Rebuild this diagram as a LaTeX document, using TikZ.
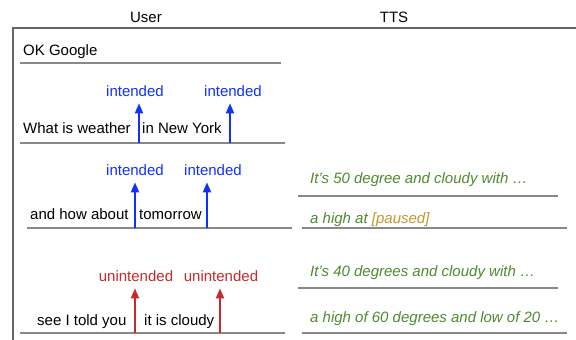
\documentclass[tikz,border=0pt]{standalone}
\usepackage{fontspec}
\setmainfont{Liberation Sans}
\usetikzlibrary{arrows.meta}
\definecolor{intblue}{HTML}{1030FF}
\definecolor{unred}{HTML}{C62A2A}
\definecolor{ttsgreen}{HTML}{4E8A2E}
\definecolor{pausegold}{HTML}{C4962E}
\definecolor{rulegray}{HTML}{888888}

\begin{document}
\begin{tikzpicture}[x=1pt, y=-1pt,
  txt/.style={anchor=base west, inner sep=0pt, font=\fontsize{15}{18}\selectfont},
  head/.style={anchor=base, inner sep=0pt, font=\fontsize{15}{18}\selectfont},
  tts/.style={txt, text=ttsgreen, font=\fontsize{15}{18}\selectfont\itshape},
  lbl/.style={anchor=base, inner xsep=0pt, inner ysep=7pt, font=\fontsize{15}{18}\selectfont},
  rule/.style={draw=rulegray, line width=1.2pt},
  mark arrow/.style={-{Triangle[length=10pt,width=8pt]}, line width=2pt}]
  \useasboundingbox (0,0) rectangle (576,340);

  \node[head] (user) at (146,23) {User};
  \node[head] (tts) at (394,23) {TTS};
  \draw[draw=black!60, line width=2pt] (576,28) -- (13,28) -- (13,340);

  \node[txt] (ok) at (23,55) {OK Google};
  \draw[rule] (20,63) -- (281,63);

  \node[txt] (q1a) at (23,133) {What is weather};
  \node[txt] (q1b) at (142,133) {in New York};
  \draw[rule] (20,143) -- (285,143);
  \coordinate (s1a) at (139,143);
  \coordinate (s1b) at (230,143);
  \node[lbl, text=intblue] (i1a) at (135,96) {intended};
  \node[lbl, text=intblue] (i1b) at (233,96) {intended};
  \draw[mark arrow, intblue] (s1a) -- (s1a |- i1a.south);
  \draw[mark arrow, intblue] (s1b) -- (s1b |- i1b.south);

  \node[txt] (q2a) at (30,219) {and how about};
  \node[txt] (q2b) at (139,219) {tomorrow};
  \draw[rule] (27,228) -- (292,228);
  \coordinate (s2a) at (135,228);
  \coordinate (s2b) at (207,228);
  \node[lbl, text=intblue] (i2a) at (135,175) {intended};
  \node[lbl, text=intblue] (i2b) at (213,175) {intended};
  \draw[mark arrow, intblue] (s2a) -- (s2a |- i2a.south);
  \draw[mark arrow, intblue] (s2b) -- (s2b |- i2b.south);

  \node[txt] (q3a) at (37,325) {see I told you};
  \node[txt] (q3b) at (144,325) {it is cloudy};
  \draw[rule] (20,333) -- (285,333);
  \coordinate (s3a) at (135,333);
  \coordinate (s3b) at (220,333);
  \node[lbl, text=unred] (u3a) at (136,281) {unintended};
  \node[lbl, text=unred] (u3b) at (221,281) {unintended};
  \draw[mark arrow, unred] (s3a) -- (s3a |- u3a.south);
  \draw[mark arrow, unred] (s3b) -- (s3b |- u3b.south);

  \node[tts] (t1) at (310,183) {It’s 50 degree and cloudy with …};
  \draw[rule] (298,196) -- (558,196);
  \node[tts] (t2) at (310,223) {a high at \textcolor{pausegold}{[paused]}};
  \draw[rule] (302,228) -- (567,228);
  \node[tts] (t3) at (310,276) {It’s 40 degrees and cloudy with …};
  \draw[rule] (298,288) -- (558,288);
  \node[tts] (t4) at (310,322) {a high of 60 degrees and low of 20 …};
  \draw[rule] (302,333) -- (567,333);
\end{tikzpicture}
\end{document}
